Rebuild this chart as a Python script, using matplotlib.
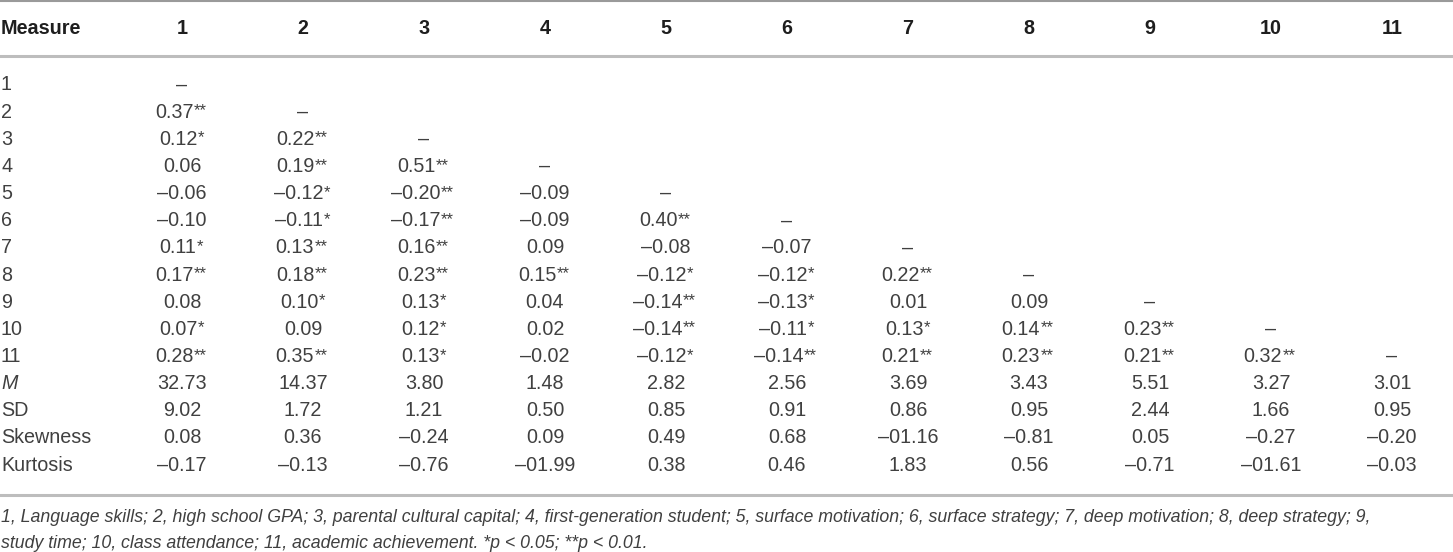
import matplotlib
matplotlib.use("Agg")
import matplotlib.pyplot as plt
import matplotlib.transforms as mtransforms

# Table content
measures = ["1", "2", "3", "4", "5", "6", "7", "8", "9", "10", "11"]

# lower-triangle correlations ("–" on the diagonal), stars = significance
corr = [
    ["–"],
    ["0.37**", "–"],
    ["0.12*", "0.22**", "–"],
    ["0.06", "0.19**", "0.51**", "–"],
    ["–0.06", "–0.12*", "–0.20**", "–0.09", "–"],
    ["–0.10", "–0.11*", "–0.17**", "–0.09", "0.40**", "–"],
    ["0.11*", "0.13**", "0.16**", "0.09", "–0.08", "–0.07", "–"],
    ["0.17**", "0.18**", "0.23**", "0.15**", "–0.12*", "–0.12*", "0.22**", "–"],
    ["0.08", "0.10*", "0.13*", "0.04", "–0.14**", "–0.13*", "0.01", "0.09", "–"],
    ["0.07*", "0.09", "0.12*", "0.02", "–0.14**", "–0.11*", "0.13*", "0.14**", "0.23**", "–"],
    ["0.28**", "0.35**", "0.13*", "–0.02", "–0.12*", "–0.14**", "0.21**", "0.23**", "0.21**", "0.32**", "–"],
]

mean_vals = ["32.73", "14.37", "3.80", "1.48", "2.82", "2.56", "3.69", "3.43", "5.51", "3.27", "3.01"]
sd_vals = ["9.02", "1.72", "1.21", "0.50", "0.85", "0.91", "0.86", "0.95", "2.44", "1.66", "0.95"]
skew_vals = ["0.08", "0.36", "–0.24", "0.09", "0.49", "0.68", "–01.16", "–0.81", "0.05", "–0.27", "–0.20"]
kurt_vals = ["–0.17", "–0.13", "–0.76", "–01.99", "0.38", "0.46", "1.83", "0.56", "–0.71", "–01.61", "–0.03"]

footnote = [
    "1, Language skills; 2, high school GPA; 3, parental cultural capital; 4, first-generation student; "
    "5, surface motivation; 6, surface strategy; 7, deep motivation; 8, deep strategy; 9,",
    "study time; 10, class attendance; 11, academic achievement. *p < 0.05; **p < 0.01.",
]

W, H = 1453, 552
fig = plt.figure(figsize=(W / 100, H / 100), dpi=100)
ax = fig.add_axes([0, 0, 1, 1])
ax.set_xlim(0, W)
ax.set_ylim(H, 0)
ax.axis("off")

FONT = "Liberation Sans"
FS = 14.2
TXT = "#404040"

col_x = [182 + 121.0 * j for j in range(len(measures))]
row_y0, row_dy = 85, 27.15

# rules
ax.axhline(1, color="#9a9a9a", lw=1.5)
ax.axhline(55.5, color="#bdbdbd", lw=2.2)
ax.axhline(495, color="#bdbdbd", lw=2.2)

# header
ax.text(1, 29, "Measure", ha="left", va="center", fontsize=FS, fontweight="bold",
        family=FONT, color="#1e1e1e")
for x, m in zip(col_x, measures):
    ax.text(x, 29, m, ha="center", va="center", fontsize=FS, fontweight="bold",
            family=FONT, color="#1e1e1e")


def cell(x, y, s):
    num = s.rstrip("*")
    stars = s[len(num):]
    shift = -4.0 * len(stars)
    tr = mtransforms.offset_copy(ax.transData, fig=fig, x=shift, y=0, units="dots")
    t = ax.text(x, y, num, ha="center", va="center", fontsize=FS, family=FONT,
                color=TXT, transform=tr)
    if stars:
        ax.annotate(stars, xy=(1, 1), xycoords=t, xytext=(0.2, -0.5),
                    textcoords="offset points", ha="left", va="top",
                    fontsize=FS * 0.85, family=FONT, color=TXT)


row_labels = measures + ["M", "SD", "Skewness", "Kurtosis"]
table_rows = corr + [mean_vals, sd_vals, skew_vals, kurt_vals]
for i, (lab, vals) in enumerate(zip(row_labels, table_rows)):
    y = row_y0 + row_dy * i
    ax.text(1, y, lab, ha="left", va="center", fontsize=FS, family=FONT, color=TXT,
            style="italic" if lab == "M" else "normal")
    for x, s in zip(col_x, vals):
        cell(x, y, s)

# footnote, sized so the first line ends where the reference's does
notes = [ax.text(1, 518 + 25 * k, line, ha="left", va="center", fontsize=FS,
                 family=FONT, style="italic", color=TXT)
         for k, line in enumerate(footnote)]
r = fig.canvas.get_renderer()
w = notes[0].get_window_extent(r).width
for t in notes:
    t.set_fontsize(FS * 1372 / w)

fig.savefig("out.png", dpi=100)
